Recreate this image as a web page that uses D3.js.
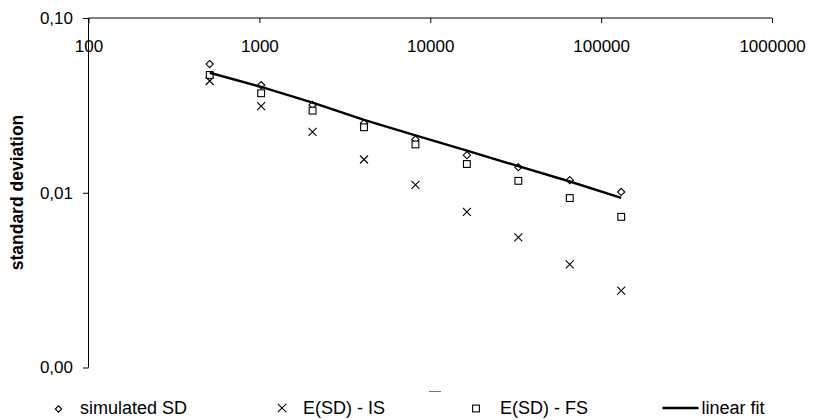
<!DOCTYPE html>
<html><head><meta charset="utf-8">
<script src="https://cdn.jsdelivr.net/npm/d3@7"></script>
<style>
body{margin:0;background:#fff;}
svg text{font-family:"Liberation Sans",Arial,sans-serif;fill:#000;}
</style></head>
<body><svg id="c" width="819" height="420"></svg>
<script>
// ---- data ----
const sampleSizes = [512, 1024, 2048, 4096, 8192, 16384, 32768, 65536, 131072];
const simulatedSD = [0.0545, 0.0413, 0.0318, 0.0250, 0.0202, 0.0164, 0.0140, 0.0118, 0.0101];
const expectedIS  = [0.0436, 0.0313, 0.0223, 0.0155, 0.0111, 0.00778, 0.00555, 0.00389, 0.00275];
const expectedFS  = [0.0472, 0.0371, 0.0295, 0.0237, 0.0189, 0.0146, 0.0117, 0.00932, 0.00728];
const linearFit   = [0.0486, 0.0403, 0.0328, 0.0261, 0.0213, 0.0174, 0.0142, 0.0116, 0.00936];
const xTicks = [100, 1000, 10000, 100000, 1000000];
const yTicks = [0.001, 0.01, 0.1];
const seriesNames = ["simulated SD", "E(SD) - IS", "E(SD) - FS", "linear fit"];
const yTitle = "standard deviation";

// ---- chart ----
const svg = d3.select("#c");
const x = d3.scaleLog().domain([100, 1000000]).range([88.5, 772]);
const y = d3.scaleLog().domain([0.001, 0.1]).range([367.5, 18]);

const fmt = v => d3.format(".2f")(v).replace(".", ",");

const gx = svg.append("g").attr("transform", "translate(0,18)")
  .call(d3.axisBottom(x).tickValues(xTicks).tickFormat(d3.format("d")).tickSize(5).tickPadding(17));
gx.select(".domain").attr("d", `M${x(100)},0H${x(1000000)}`).attr("stroke", "#000");
gx.selectAll("text").style("font-size", "17px");

const gy = svg.append("g").attr("transform", `translate(${x(100)},0)`)
  .call(d3.axisLeft(y).tickValues(yTicks).tickFormat(fmt).tickSize(5.5).tickPadding(10));
gy.select(".domain").attr("d", `M0,${y(0.1)}V${y(0.001)}`).attr("stroke", "#000");
gy.selectAll("text").style("font-size", "17px");

svg.append("text")
  .attr("transform", "translate(23,192.5) rotate(-90)")
  .attr("text-anchor", "middle")
  .style("font-size", "17.5px").style("font-weight", "bold")
  .text(yTitle);

// symbols
const diamond = (g, cx, cy, r) => g.append("path")
  .attr("d", `M${cx},${cy - r}L${cx + r},${cy}L${cx},${cy + r}L${cx - r},${cy}Z`)
  .attr("fill", "none").attr("stroke", "#000").attr("stroke-width", 1.1);
const square = (g, cx, cy, r) => g.append("rect")
  .attr("x", cx - r).attr("y", cy - r).attr("width", 2 * r).attr("height", 2 * r)
  .attr("fill", "#fff").attr("stroke", "#000").attr("stroke-width", 1.1);
const cross = (g, cx, cy, r) => g.append("path")
  .attr("d", `M${cx - r},${cy - r}L${cx + r},${cy + r}M${cx - r},${cy + r}L${cx + r},${cy - r}`)
  .attr("fill", "none").attr("stroke", "#000").attr("stroke-width", 1.1);

const plot = svg.append("g");
sampleSizes.forEach((n, i) => cross(plot, x(n), y(expectedIS[i]), 4));
sampleSizes.forEach((n, i) => diamond(plot, x(n), y(simulatedSD[i]), 3.6));
sampleSizes.forEach((n, i) => square(plot, x(n), y(expectedFS[i]), 3.4));

const line = d3.line().x((d, i) => x(sampleSizes[i])).y(d => y(d));
plot.append("path").datum(linearFit).attr("d", line)
  .attr("fill", "none").attr("stroke", "#000").attr("stroke-width", 2.4);

// legend
const lg = svg.append("g");
const ly = 408;
diamond(lg, 58.5, ly + 1, 3.2);
lg.append("text").attr("x", 80).attr("y", 413.5).style("font-size", "18px").text(seriesNames[0]);
cross(lg, 282, ly, 4.2);
lg.append("text").attr("x", 303).attr("y", 413.5).style("font-size", "18px").text(seriesNames[1]);
square(lg, 476, ly + 0.5, 3.4);
lg.append("text").attr("x", 500).attr("y", 413.5).style("font-size", "18px").text(seriesNames[2]);
lg.append("line").attr("x1", 662.5).attr("x2", 698.5).attr("y1", ly).attr("y2", ly)
  .attr("stroke", "#000").attr("stroke-width", 2.4);
lg.append("text").attr("x", 701.5).attr("y", 413.5).style("font-size", "18px").text(seriesNames[3]);
lg.append("line").attr("x1", 429).attr("x2", 441).attr("y1", 391.5).attr("y2", 391.5)
  .attr("stroke", "#777").attr("stroke-width", 1);
</script></body></html>
